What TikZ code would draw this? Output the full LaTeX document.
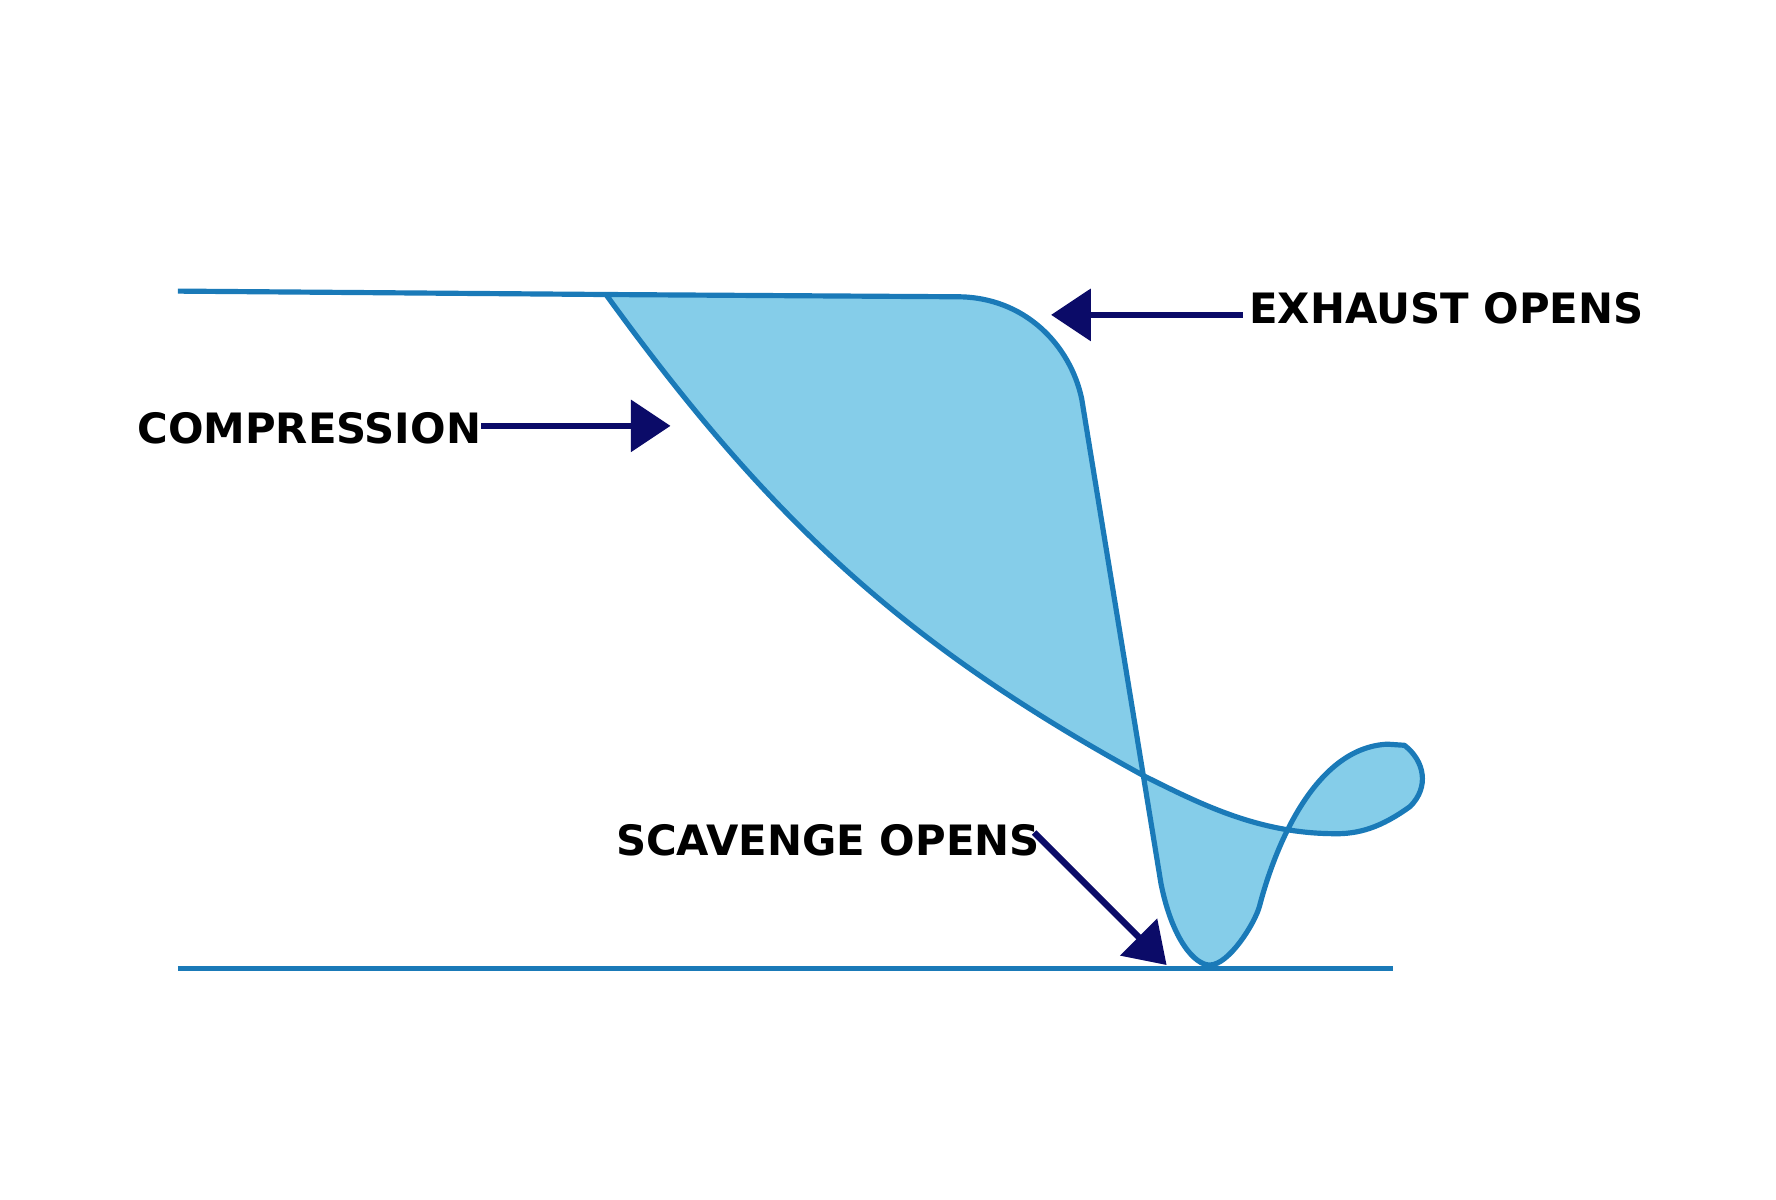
\documentclass[tikz,border=0pt]{standalone}
\usepackage{fontspec}
\setmainfont{DejaVu Sans}
\usetikzlibrary{arrows.meta}
\definecolor{cycleblue}{HTML}{1A7AB8}
\definecolor{cyclefill}{HTML}{85CDE9}
\definecolor{navy}{HTML}{0B0B68}
\tikzset{
  caption/.style={font=\bfseries\fontsize{10.5}{12}\selectfont},
  pointer/.style={navy,line width=1.6pt,-{Triangle[length=0.35cm,width=0.45cm]}},
  trace/.style={cycleblue,line width=1.3pt,line join=round}
}
\begin{document}
\begin{tikzpicture}[x=0.01cm,y=-0.01cm]
        \useasboundingbox (0,0) rectangle (1568,1059);
        % indicator diagram
        \draw[trace,fill=cyclefill] (535,260) -- (845,262)
          .. controls (905,262) and (945,305) .. (955,352) -- (1025,780)
          .. controls (1035,830) and (1055,852) .. (1068,852)
          .. controls (1085,852) and (1108,815) .. (1112,800)
          .. controls (1125,750) and (1160,660) .. (1225,657) -- (1240,658)
          .. controls (1258,672) and (1262,695) .. (1245,712)
          .. controls (1220,730) and (1200,737) .. (1175,736)
          .. controls (1110,735) and (1060,710) .. (1010,685)
          .. controls (800,570) and (680,460) .. cycle;
        \draw[trace] (157,257) -- (535,260);
        \draw[trace] (157,855) -- (1230,855);

        \node[caption] (compression) at (273,378) {COMPRESSION};
        \node[caption] (exhaust) at (1277,272) {EXHAUST OPENS};
        \node[caption] (scavenge) at (731,742) {SCAVENGE OPENS};

        \coordinate (compfrom) at (425,376);
        \coordinate (compto) at (592,376);
        \coordinate (exhfrom) at (1097,278);
        \coordinate (exhto) at (928,278);
        \coordinate (scavfrom) at (913,735);
        \coordinate (scavto) at (1030,852);
        \draw[pointer] (compfrom) -- (compto);
        \draw[pointer] (exhfrom) -- (exhto);
        \draw[pointer] (scavfrom) -- (scavto);
\end{tikzpicture}
\end{document}
